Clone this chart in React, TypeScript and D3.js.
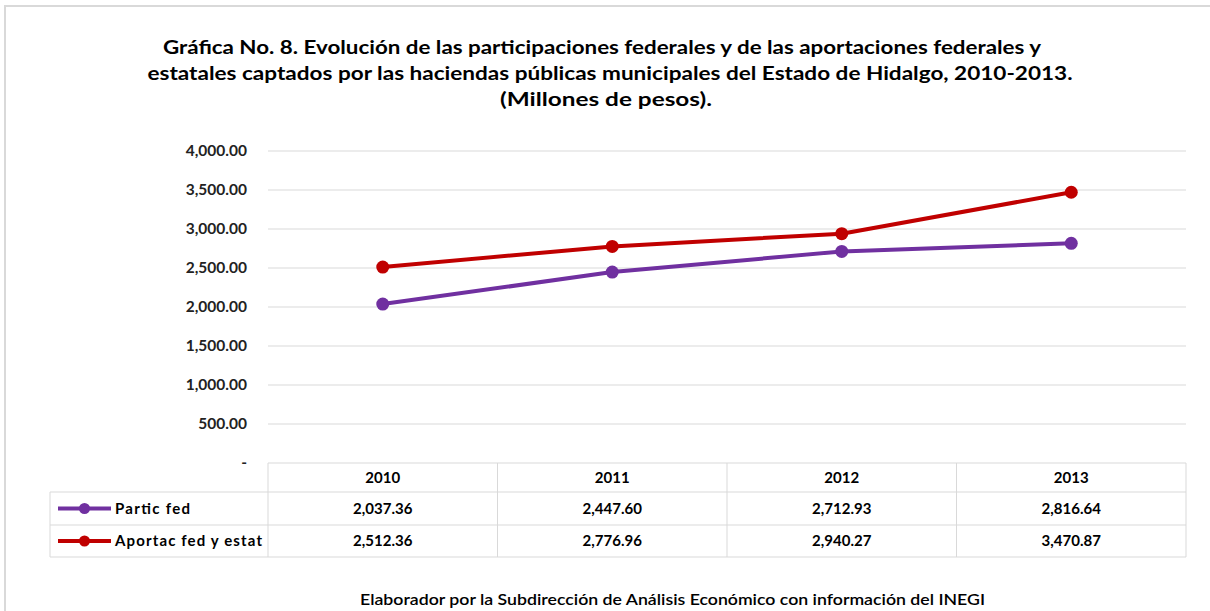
import React from 'react'
import * as d3 from 'd3'

const years = ['2010', '2011', '2012', '2013']
const particFed = [2037.36, 2447.6, 2712.93, 2816.64]
const aportacFed = [2512.36, 2776.96, 2940.27, 3470.87]
const yTicks = [0, 500, 1000, 1500, 2000, 2500, 3000, 3500, 4000]
const seriesNames = ['Partic fed', 'Aportac fed y estat']
const seriesColors = ['#7030A0', '#C00000']
const titleLines = [
  'Gráfica No. 8. Evolución de las participaciones federales y de las aportaciones federales y',
  'estatales captados por las haciendas públicas municipales del Estado de Hidalgo, 2010-2013.',
  '(Millones de pesos).',
]
const footer = 'Elaborador por la Subdirección de Análisis Económico con información del INEGI'

const W = 1210
const H = 611
const font = 'Lato, "Open Sans", sans-serif'
const grid = '#d9d9d9'

// widths the reference text takes up
const titleLayout = [
  { cx: 602, len: 878 },
  { cx: 610, len: 925 },
  { cx: 606, len: 212 },
]
const legendLen = [75, 147]

const App = () => {
  const left = 268
  const right = 1186
  const top = 151
  const bottom = 463
  const legendLeft = 50
  const rowH = [463, 492, 525, 557]

  const x = d3.scaleBand().domain(years).range([left, right])
  const y = d3.scaleLinear().domain([0, 4000]).range([bottom, top])
  const fmt = d3.format(',.2f')
  const cx = (i: number) => x(years[i])! + x.bandwidth() / 2

  const lineMaker = d3
    .line<number>()
    .x((d, i) => cx(i))
    .y((d) => y(d))

  const series = [particFed, aportacFed]

  return (
    <svg width={W} height={H} style={{ position: 'absolute', left: 0, top: 0 }} fontFamily={font}>
      <rect width={W} height={H} fill="#fff" />
      {/* outer frame */}
      <path d={`M5,${H} V6 H${W}`} fill="none" stroke={grid} strokeWidth={2} />

      {titleLines.map((t, i) => (
        <text
          key={i}
          x={titleLayout[i].cx}
          y={54 + i * 26}
          textAnchor="middle"
          fontSize={19.5}
          fontWeight="bold"
          fill="#000"
          textLength={titleLayout[i].len}
          lengthAdjust="spacingAndGlyphs"
        >
          {t}
        </text>
      ))}

      {/* gridlines + y labels */}
      {yTicks.map((t) => (
        <g key={t}>
          {t > 0 && <line x1={left} x2={right} y1={y(t)} y2={y(t)} stroke={grid} />}
          <text x={247} y={y(t) + 5} textAnchor="end" fontSize={15.5} fontWeight="bold" fill="#222">
            {t === 0 ? '-' : fmt(t)}
          </text>
        </g>
      ))}

      {/* data table */}
      <g stroke={grid} fill="none">
        <line x1={left} x2={right} y1={rowH[0]} y2={rowH[0]} />
        {rowH.slice(1).map((r) => (
          <line key={r} x1={legendLeft} x2={right} y1={r} y2={r} />
        ))}
        <line x1={legendLeft} x2={legendLeft} y1={rowH[1]} y2={rowH[3]} />
        {years.map((yr) => (
          <line key={yr} x1={x(yr)} x2={x(yr)} y1={rowH[0]} y2={rowH[3]} />
        ))}
        <line x1={right} x2={right} y1={rowH[0]} y2={rowH[3]} />
      </g>
      {years.map((yr, i) => (
        <text key={yr} x={cx(i)} y={(rowH[0] + rowH[1]) / 2 + 5} textAnchor="middle" fontSize={15} fontWeight="bold" fill="#000">
          {yr}
        </text>
      ))}
      {series.map((s, si) => {
        const ry = (rowH[si + 1] + rowH[si + 2]) / 2
        return (
          <g key={si}>
            <line x1={58} x2={111} y1={ry} y2={ry} stroke={seriesColors[si]} strokeWidth={4} />
            <circle cx={84.5} cy={ry} r={5.5} fill={seriesColors[si]} />
            <text
              x={115}
              y={ry + 5}
              fontSize={15}
              fontWeight="bold"
              fill="#000"
              textLength={legendLen[si]}
              lengthAdjust="spacing"
            >
              {seriesNames[si]}
            </text>
            {s.map((v, i) => (
              <text key={i} x={cx(i)} y={ry + 5} textAnchor="middle" fontSize={15} fontWeight="bold" fill="#000">
                {fmt(v)}
              </text>
            ))}
          </g>
        )
      })}

      {/* lines */}
      {series.map((s, si) => (
        <g key={si}>
          <path d={lineMaker(s)!} fill="none" stroke={seriesColors[si]} strokeWidth={4} strokeLinejoin="round" />
          {s.map((v, i) => (
            <circle key={i} cx={cx(i)} cy={y(v)} r={6.5} fill={seriesColors[si]} />
          ))}
        </g>
      ))}

      <text
        x={672.5}
        y={605}
        textAnchor="middle"
        fontSize={15.5}
        fontWeight={600}
        fill="#000"
        textLength={625}
        lengthAdjust="spacingAndGlyphs"
      >
        {footer}
      </text>
    </svg>
  )
}

export default App
